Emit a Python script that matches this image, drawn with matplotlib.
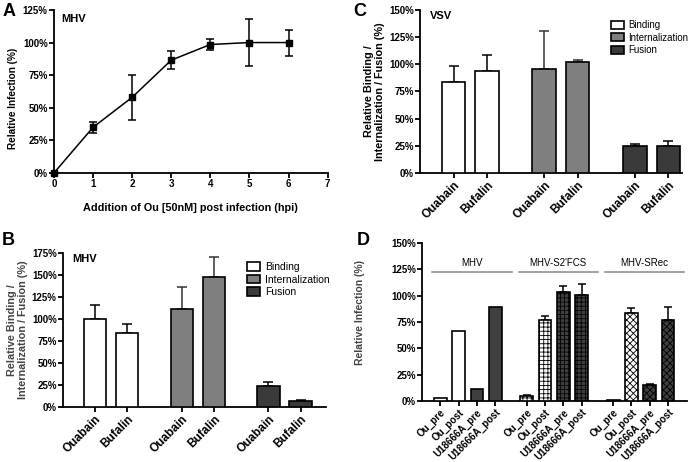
import numpy as np
import matplotlib.pyplot as plt

plt.rcParams['font.family'] = ['Liberation Sans', 'DejaVu Sans']
plt.rcParams['hatch.linewidth'] = 0.6

# Panel A: MHV time-of-addition
hpi = [0, 1, 2, 3, 4, 5, 6]
rel_inf = [0, 35, 58, 86.5, 98.5, 100, 100]
rel_inf_err = [0, 4, 17, 7, 4, 18, 10]

# Panels B and C: binding / internalization / fusion
drugs = ['Ouabain', 'Bufalin']
stages = ['Binding', 'Internalization', 'Fusion']
stage_colors = ['white', '#7f7f7f', '#3a3a3a']
mhv_vals = [[100, 84], [111, 148], [24, 7]]
mhv_errs = [[16, 10], [26, 23], [5, 0.5]]
vsv_vals = [[84, 94], [96, 102], [24.5, 25]]
vsv_errs = [[14.5, 14.5], [35, 2], [2.5, 4.5]]

# Panel D
viruses = ['MHV', "MHV-S2'FCS", 'MHV-SRec']
treatments = ['Ou_pre', 'Ou_post', 'U18666A_pre', 'U18666A_post']
d_vals = [[3, 66, 11, 89], [5, 77, 103.5, 100.5], [1, 83.5, 15.5, 77]]
d_errs = [[0, 0, 0, 0], [1, 4, 6, 11], [0, 4.5, 1, 12.5]]
d_colors = ['white', 'white', '#3f3f3f', '#3f3f3f']
d_hatches = [['', '', '', ''],
             ['++++', '++++', '++++', '++++'],
             ['', 'xxxxx', 'xxxxx', 'xxxxx']]

TICK_FS = 7
LW = 1.3

fig = plt.figure(figsize=(7, 4.62), dpi=100)


def style_axes(ax):
    for s in ['top', 'right']:
        ax.spines[s].set_visible(False)
    for s in ['left', 'bottom']:
        ax.spines[s].set_linewidth(LW)
    ax.tick_params(width=LW, length=3.5, labelsize=TICK_FS, pad=1)
    for lab in ax.get_xticklabels() + ax.get_yticklabels():
        lab.set_fontweight('bold')


def pct_ticks(ax, top):
    ticks = np.arange(0, top + 1, 25)
    ax.set_yticks(ticks)
    ax.set_yticklabels(['{}%'.format(int(t)) for t in ticks])
    ax.set_ylim(0, top)


# ---------- A ----------
axA = fig.add_axes([0.077, 0.6255, 0.391, 0.353])
axA.errorbar(hpi, rel_inf, yerr=rel_inf_err, color='black', marker='s',
             markersize=4, linewidth=1.1, capsize=3, elinewidth=1.1,
             capthick=1.1, clip_on=False, zorder=5)
axA.set_xlim(0, 7)
axA.set_xticks(range(8))
pct_ticks(axA, 125)
axA.set_xlabel('Addition of Ou [50nM] post infection (hpi)', fontsize=7.8,
               fontweight='bold', labelpad=10)
axA.set_ylabel('Relative Infection (%)', fontsize=7.2, fontweight='bold')
axA.yaxis.set_label_coords(-0.13, 0.46)
axA.text(0.2, 118, 'MHV', fontsize=8, fontweight='bold', va='center')
style_axes(axA)


# ---------- B and C ----------
bar_pos = [0, 1, 2.7, 3.7, 5.4, 6.4]


def stage_panel(ax, vals, errs, top, xmax, tag, ylab_color, leg_fs, leg_anchor):
    for i, stage in enumerate(stages):
        pos = bar_pos[2 * i:2 * i + 2]
        ax.bar(pos, vals[i], width=0.7, color=stage_colors[i],
               edgecolor='black', linewidth=1.2, label=stage, zorder=3)
        ax.errorbar(pos, vals[i], yerr=[[0, 0], errs[i]], fmt='none',
                    ecolor='black' if i != 1 else '#333333', elinewidth=1.1,
                    capsize=3.5, capthick=1.1, zorder=2)
    ax.set_xlim(-1, xmax)
    ax.set_xticks(bar_pos)
    ax.set_xticklabels(drugs * 3, rotation=45, ha='right',
                       rotation_mode='anchor')
    pct_ticks(ax, top)
    ax.set_ylabel('Relative Binding /\nInternalization / Fusion (%)',
                  fontsize=7.8, fontweight='bold', color=ylab_color,
                  labelpad=3, linespacing=1.1)
    ax.text(-0.7, top * 0.965, tag, fontsize=8, fontweight='bold',
            va='center')
    ax.legend(loc='upper right', bbox_to_anchor=leg_anchor,
              frameon=False, fontsize=leg_fs, handlelength=1.3,
              handleheight=0.9, labelspacing=0.25, handletextpad=0.5,
              borderaxespad=0)
    style_axes(ax)
    for lab in ax.get_xticklabels():
        lab.set_fontsize(8.5)


axB = fig.add_axes([0.09, 0.119, 0.376, 0.333])
stage_panel(axB, mhv_vals, mhv_errs, 175, 7.2, 'MHV', '#444444', 7.5,
            (1.03, 0.97))

axC = fig.add_axes([0.6, 0.6255, 0.374, 0.353])
stage_panel(axC, vsv_vals, vsv_errs, 150, 6.8, 'VSV', 'black', 6.9,
            (1.04, 0.96))


# ---------- D ----------
axD = fig.add_axes([0.603, 0.132, 0.379, 0.342])
gap = 4.72
d_pos = []
for g in range(3):
    pos = [g * gap + k for k in range(4)]
    d_pos += pos
    for k in range(4):
        axD.bar(pos[k], d_vals[g][k], width=0.7, color=d_colors[k],
                edgecolor='black', hatch=d_hatches[g][k], linewidth=1.2,
                zorder=3)
        if d_errs[g][k] > 0:
            axD.errorbar(pos[k], d_vals[g][k], yerr=[[0], [d_errs[g][k]]],
                         fmt='none', ecolor='black', elinewidth=1.1,
                         capsize=3, capthick=1.1, zorder=2)
    axD.plot([pos[0] - 0.45, pos[-1] + 0.9], [122.5, 122.5],
             color='#888888', linewidth=1.1, clip_on=False)
    axD.text((pos[0] - 0.45 + pos[-1] + 0.9) / 2, 126, viruses[g],
             ha='center', va='bottom', fontsize=7)
axD.set_xlim(-1, 13.5)
axD.set_xticks(d_pos)
axD.set_xticklabels(treatments * 3, rotation=45, ha='right',
                    rotation_mode='anchor')
pct_ticks(axD, 150)
axD.set_ylabel('Relative Infection (%)', fontsize=7.5, fontweight='bold',
               color='#444444')
axD.yaxis.set_label_coords(-0.215, 0.56)
style_axes(axD)
for lab in axD.get_xticklabels():
    lab.set_fontsize(7.1)

# panel letters
for lab, x, y in [('A', 0.003, 0.975), ('B', 0.003, 0.48),
                  ('C', 0.505, 0.975), ('D', 0.51, 0.48)]:
    fig.text(x, y, lab, fontsize=13, fontweight='bold', va='center')

fig.savefig('out.png', dpi=100)
